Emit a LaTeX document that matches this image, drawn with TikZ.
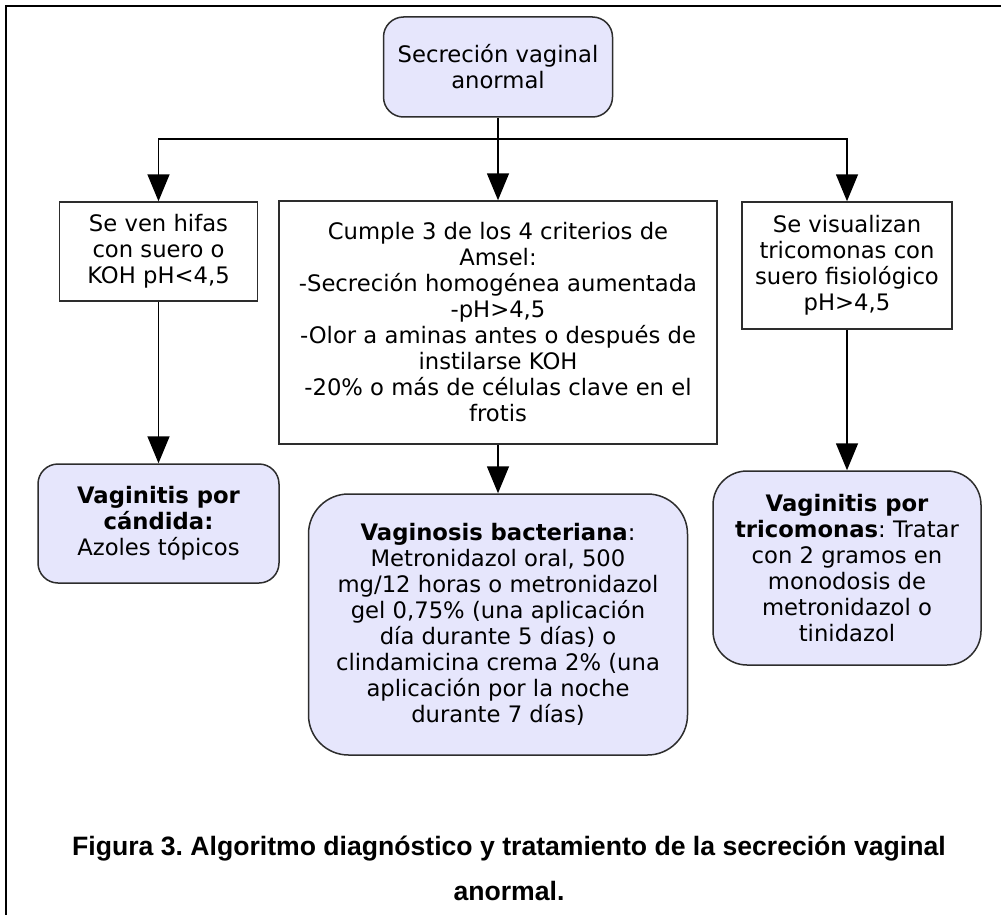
\documentclass[tikz,border=0pt]{standalone}
\usepackage{fontspec}
\setmainfont{DejaVu Sans}
\newfontfamily\capfont{Liberation Sans}
\usetikzlibrary{arrows.meta}
\definecolor{lavbox}{RGB}{230,230,252}
\definecolor{edgegray}{RGB}{45,45,45}
\tikzset{
  every node/.style={font=\fontsize{22.7}{26}\selectfont, align=center, inner sep=0pt},
  testbox/.style={draw=edgegray, line width=1.5pt, rectangle},
  roundbox/.style={draw=edgegray, line width=1.5pt, fill=lavbox, rounded corners=#1},
  flow/.style={line width=1.6pt, -{Triangle[width=22pt,length=27pt]}},
  capline/.style={font=\capfont\bfseries\fontsize{26.6}{45}\selectfont, anchor=base},
}
\frenchspacing
\begin{document}
\begin{tikzpicture}[x=1pt,y=-1pt]
\useasboundingbox (0,0) rectangle (1001,915);
\draw[line width=2pt] (6,917) -- (6,6) -- (1003,6);

\node[roundbox=20pt, minimum width=229pt, minimum height=100pt] (start) at (498,67) {Secreción vaginal\\anormal};
\coordinate (split) at (498,139);

\node[testbox, minimum width=198pt, minimum height=99pt] (hifas) at (158.5,251.5) {Se ven hifas\\con suero o\\KOH pH<4,5};
\node[testbox, minimum width=438pt, minimum height=243pt] (amsel) at (498,322.5) {Cumple 3 de los 4 criterios de\\Amsel:\\-Secreción homogénea aumentada\\-pH>4,5\\-Olor a aminas antes o después de\\instilarse KOH\\-20\% o más de células clave en el\\frotis};
\node[testbox, minimum width=210pt, minimum height=127pt] (trico) at (847,265.5) {Se visualizan\\tricomonas con\\suero fisiológico\\pH>4,5};

\node[roundbox=20pt, minimum width=241pt, minimum height=119pt] (candida) at (158.5,523.5) {\textbf{Vaginitis por}\\\textbf{cándida:}\\Azoles tópicos};
\node[roundbox=40pt, minimum width=379pt, minimum height=261pt] (vaginosis) at (498,624.5) {\textbf{Vaginosis bacteriana}:\\Metronidazol oral, 500\\mg/12 horas o metronidazol\\gel 0,75\% (una aplicación\\día durante 5 días) o\\clindamicina crema 2\% (una\\aplicación por la noche\\durante 7 días)};
\node[roundbox=34pt, minimum width=268pt, minimum height=194pt] (tricomonas) at (847,568) {\textbf{Vaginitis por}\\\textbf{tricomonas}: Tratar\\con 2 gramos en\\monodosis de\\metronidazol o\\tinidazol};

\draw[flow] (start) -- (amsel);
\draw[flow] (split) -| (hifas);
\draw[flow] (split) -| (trico);
\draw[flow] (hifas) -- (candida);
\draw[flow] (amsel) -- (vaginosis);
\draw[flow] (trico) -- (tricomonas);

\node[capline] (caption) at (509,855) {Figura 3. Algoritmo diagnóstico y tratamiento de la secreción vaginal};
\node[capline] (captionend) at (509,900) {anormal.};
\end{tikzpicture}
\end{document}
